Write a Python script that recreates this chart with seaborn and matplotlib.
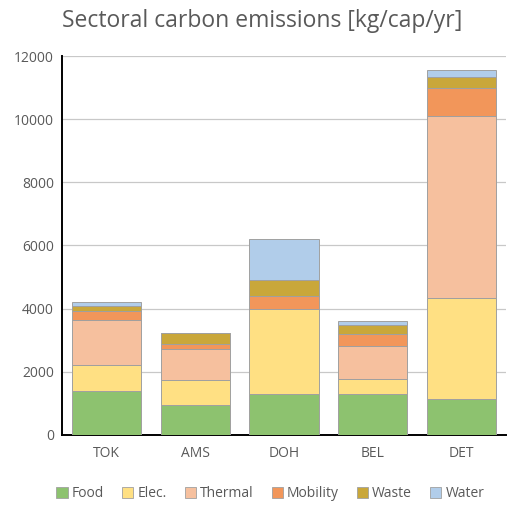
import numpy as np
import pandas as pd
import matplotlib
matplotlib.use("Agg")
import matplotlib.pyplot as plt
import seaborn as sns
from matplotlib.patches import Patch

cities = ["TOK", "AMS", "DOH", "BEL", "DET"]
sectors = ["Food", "Elec.", "Thermal", "Mobility", "Waste", "Water"]
food = [1400, 930, 1300, 1300, 1150]
elec = [800, 820, 2700, 480, 3200]
thermal = [1450, 980, 0, 1020, 5750]
mobility = [280, 150, 390, 400, 900]
waste = [160, 330, 500, 270, 350]
water = [130, 30, 1310, 150, 200]
yticks = [0, 2000, 4000, 6000, 8000, 10000, 12000]

colors = ["#8dc26f", "#ffe083", "#f6c09e", "#f2965a", "#c9a73a", "#b1cdea"]

sns.set_style("white")
plt.rcParams["font.family"] = ["Open Sans", "DejaVu Sans"]

df = pd.DataFrame({"city": cities, "Food": food, "Elec.": elec, "Thermal": thermal,
                   "Mobility": mobility, "Waste": waste, "Water": water})

fig = plt.figure(figsize=(5.1, 5.05), dpi=100)
ax = fig.add_axes([0.122, 0.139, 0.87, 0.75])

bottom = np.zeros(len(cities))
for sec, col in zip(sectors, colors):
    vals = df[sec].to_numpy(dtype=float)
    sns.barplot(x=df["city"], y=vals, bottom=bottom, color=col, width=0.78,
                saturation=1, edgecolor="#a0a0a0", linewidth=0.7, ax=ax, zorder=3)
    bottom = bottom + vals

ax.set_ylim(0, 12000)
ax.set_xlim(-0.5, len(cities) - 0.5)
ax.set_yticks(yticks)
ax.set_yticklabels([str(v) for v in yticks], color="#595959", fontsize=10)
ax.yaxis.grid(True, color="#c8c8c8", linewidth=0.9, zorder=0)
ax.set_axisbelow(True)
ax.set_xlabel("")
ax.set_ylabel("")
ax.tick_params(axis="x", which="major", length=0, labelsize=10, labelcolor="#595959", pad=8)
ax.tick_params(axis="y", length=0, pad=6)
ax.set_xticks(np.arange(-0.5, len(cities)), minor=True)
ax.tick_params(axis="x", which="minor", length=6, width=1.2, color="black")
for s in ["top", "right"]:
    ax.spines[s].set_visible(False)
ax.spines["left"].set_color("black")
ax.spines["left"].set_linewidth(1.4)
ax.spines["bottom"].set_color("black")
ax.spines["bottom"].set_linewidth(1.4)

fig.text(0.515, 0.958, "Sectoral carbon emissions [kg/cap/yr]", ha="center", va="center",
         fontsize=16.5, color="#595959")

handles = [Patch(facecolor=c, edgecolor="#a0a0a0", linewidth=0.6) for c in colors]
fig.legend(handles, sectors, loc="center", bbox_to_anchor=(0.53, 0.022), ncol=6,
           frameon=False, fontsize=10, labelcolor="#595959", handlelength=0.8,
           handleheight=0.8, handletextpad=0.3, columnspacing=1.3)

fig.savefig("out.png", dpi=100)
